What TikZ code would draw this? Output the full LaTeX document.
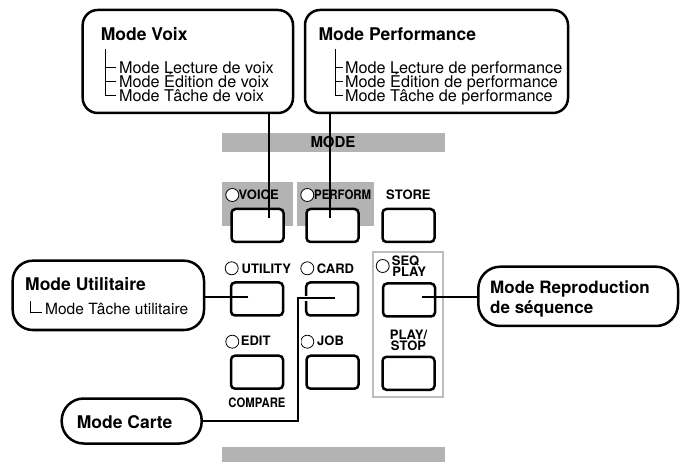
\documentclass[tikz,border=0pt]{standalone}
\usepackage{fontspec}
\setmainfont{TeX Gyre Heros}
\usepackage{graphicx}
\definecolor{barg}{HTML}{B3B3B3}
\definecolor{outg}{HTML}{BDBDBD}
\begin{document}
\begin{tikzpicture}[x=1pt,y=-1pt,
  modebox/.style={draw=black, line width=2.5pt, fill=white, inner sep=0pt},
  btn/.style={draw, line width=2.5pt, rounded corners=4pt, minimum width=52pt, minimum height=33pt, inner sep=0pt, fill=white},
  led/.style={circle, draw, line width=0.8pt, minimum size=13pt, inner sep=0pt, fill=white},
  lbl/.style={font=\fontsize{13}{13}\selectfont\bfseries, inner sep=0pt, anchor=base west},
  clbl/.style={font=\fontsize{13}{13}\selectfont\bfseries, inner sep=0pt, anchor=base},
  head/.style={font=\fontsize{17.5}{17.5}\selectfont\bfseries, inner sep=0pt, anchor=base west},
  item/.style={font=\fontsize{16.2}{16.2}\selectfont, inner sep=0pt, anchor=base west},
  conn/.style={line width=2.2pt},
  tree/.style={line width=1pt},
  graybar/.style={fill=barg, draw=none, inner sep=0pt}
]
\useasboundingbox (0,0) rectangle (680,462);

% gray panels
\node[graybar, minimum width=223pt, minimum height=19pt] (modebar) at (333.5,142.5) {};
\node[clbl, font=\fontsize{15}{15}\selectfont\bfseries] (modetxt) at (333,147.3) {MODE};
\node[graybar, minimum width=71pt, minimum height=44.3pt] (voicebg) at (257.2,203.85) {};
\node[graybar, minimum width=77pt, minimum height=44.3pt] (perfbg) at (335.5,203.85) {};
\node[graybar, minimum width=223pt, minimum height=15pt] (bottombar) at (333.5,454.5) {};
\node[draw=outg, line width=2pt, minimum width=70pt, minimum height=145pt, inner sep=0pt] (seqgroup) at (408.3,324.2) {};

% mode boxes
\node[modebox, rounded corners=15pt, minimum width=210.3pt, minimum height=103pt] (voixbox) at (187.85,61.5) {};
\node[modebox, rounded corners=15pt, minimum width=263pt, minimum height=103pt] (perfbox) at (436.5,61.5) {};
\node[modebox, rounded corners=20pt, minimum width=191.3pt, minimum height=69.3pt] (utilbox) at (108.35,295.35) {};
\node[modebox, rounded corners=22pt, minimum width=140pt, minimum height=45pt] (cartebox) at (131.7,421) {};
\node[modebox, rounded corners=22pt, minimum width=199.7pt, minimum height=59.3pt] (reprobox) at (578.15,296.35) {};

% Mode Voix text
\node[head] (voixhead) at (100.7,41) {Mode Voix};
\node[item] (voix1) at (119,74) {Mode Lecture de voix};
\node[item] (voix2) at (119,88) {Mode Édition de voix};
\node[item] (voix3) at (119,101.5) {Mode Tâche de voix};
\draw[tree] (105,49) -- (105,96) -- (116,96) (105,68) -- (116,68) (105,82) -- (116,82);

% Mode Performance text
\node[head] (perfhead) at (318.3,41) {Mode Performance};
\node[item] (perf1) at (345,74) {Mode Lecture de performance};
\node[item] (perf2) at (345,88) {Mode Édition de performance};
\node[item] (perf3) at (345,101.5) {Mode Tâche de performance};
\draw[tree] (335,49) -- (335,96) -- (343,96) (335,68) -- (343,68) (335,82) -- (343,82);

% Mode Utilitaire
\node[head] (utilhead) at (25,290.7) {Mode Utilitaire};
\node[item, font=\fontsize{15.5}{15.5}\selectfont] (util1) at (45,315) {Mode Tâche utilitaire};
\draw[tree] (30.7,301.5) -- (30.7,312.5) -- (41.7,312.5);

% Mode Carte
\node[head] (cartehead) at (76.7,428) {Mode Carte};

% Mode Reproduction
\node[head, font=\fontsize{17}{17}\selectfont\bfseries] (repro1) at (490,293.3) {Mode Reproduction};
\node[head, font=\fontsize{17}{17}\selectfont\bfseries] (repro2) at (490,313.3) {de séquence};

% LEDs
\node[led] (ledvoice) at (232.3,195) {};
\node[led] (ledperf) at (307.3,195) {};
\node[led] (ledutil) at (231.7,268.3) {};
\node[led] (ledcard) at (307.3,268.3) {};
\node[led] (ledseq) at (382.7,266) {};
\node[led] (ledit) at (232.3,341.7) {};
\node[led] (ledjob) at (307.3,341.7) {};

% button labels
\node[lbl] (tvoice) at (238.5,200) {VOICE};
\node[lbl] (tperf) at (314,200) {\scalebox{0.88}[1]{PERFORM}};
\node[lbl] (tstore) at (386,199.5) {STORE};
\node[lbl] (tutil) at (241.5,273.3) {UTILITY};
\node[lbl] (tcard) at (316.7,273.3) {CARD};
\node[lbl] (tseq) at (391.7,266) {SEQ};
\node[lbl] (tplay) at (392.2,277) {PLAY};
\node[lbl] (tedit) at (240.7,345.7) {EDIT};
\node[lbl] (tjob) at (317,345.7) {JOB};
\node[clbl] (tplay2) at (408.5,339) {PLAY/};
\node[clbl] (tstop) at (408.5,350.5) {STOP};
\node[clbl] (tcompare) at (257,407.3) {\scalebox{0.87}[1]{COMPARE}};

% buttons
\node[btn] (bvoice) at (257.5,225.5) {};
\node[btn] (bperf) at (332.5,225.5) {};
\node[btn] (bstore) at (408.5,225.5) {};
\node[btn] (butil) at (257,299) {};
\node[btn] (bcard) at (332.2,299) {};
\node[btn] (bseq) at (409,300) {};
\node[btn] (bedit) at (257,372.2) {};
\node[btn] (bjob) at (332.5,372.2) {};
\node[btn] (bplay) at (408.5,373.3) {};

% connectors
\coordinate (voiceend) at (269,218);
\coordinate (perfend) at (330,218);
\coordinate (utilend) at (248.3,297.3);
\coordinate (cardend) at (335,298.3);
\coordinate (cardbend) at (298.3,298.3);
\coordinate (seqend) at (421.7,296.7);
\draw[conn] (voiceend) -- (voiceend |- voixbox.south);
\draw[conn] (perfend) -- (perfend |- perfbox.south);
\draw[conn] (utilend) -- (utilend -| utilbox.east);
\draw[conn, preaction={draw=white, line width=5pt}] (cardend) -- (cardbend) |- (cartebox.east);
\draw[conn] (seqend) -- (seqend -| reprobox.west);
\end{tikzpicture}
\end{document}
